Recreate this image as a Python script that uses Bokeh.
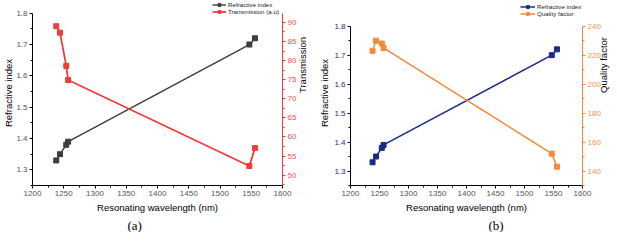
from math import pi
from bokeh.plotting import figure
from bokeh.models import Range1d, LinearAxis, FixedTicker, Legend, LegendItem, Title
from bokeh.layouts import row
from bokeh.embed import file_html
from bokeh.resources import INLINE

# ---- data ----
wavelength = [1238, 1244, 1254, 1257, 1547, 1556]
refractive_index = [1.33, 1.35, 1.38, 1.39, 1.70, 1.72]
transmission = [89.0, 87.3, 78.6, 74.9, 52.4, 57.1]
quality_factor = [223, 230, 228, 225, 152, 143]

x_ticks = [1200, 1250, 1300, 1350, 1400, 1450, 1500, 1550, 1600]
x_minor = [1225, 1275, 1325, 1375, 1425, 1475, 1525, 1575]
ri_ticks = [1.3, 1.4, 1.5, 1.6, 1.7, 1.8]
ri_minor = [1.25, 1.35, 1.45, 1.55, 1.65, 1.75]
tr_ticks = [50, 55, 60, 65, 70, 75, 80, 85, 90]
tr_minor = [47.5, 52.5, 57.5, 62.5, 67.5, 72.5, 77.5, 82.5, 87.5]
qf_ticks = [140, 160, 180, 200, 220, 240]
qf_minor = [130, 150, 170, 190, 210, 230]

ri_span = (1.25, 1.8)
tr_span = (47.3, 92.4)
qf_span = (130, 240)

x_label = "Resonating wavelength (nm)"
ri_label = "Refractive index"
tr_label = "Transmission"
tr_legend = "Transmission (a.u)"
qf_label = "Quality factor"

SANS = "Liberation Sans"
SERIF = "Liberation Serif"
GRAY = "#3d3d3d"
RED = "#f23b3b"
RED_LBL = "#f25050"
NAVY = "#1c2a86"
ORANGE = "#f5893c"
ORANGE_LBL = "#f39248"
TICK_LBL = "#555555"

# layout (pixels): both frames run from the page top (8) down to y=193;
# the axes themselves start lower, as in the reference.
FH = 185
BOTTOM = 42
DROP_A = 12.7
DROP_B = 25.7


def style_axis(ax, line_color, label_color, ticks, minor, title=None, standoff=2):
    ax.ticker = FixedTicker(ticks=ticks, minor_ticks=minor)
    ax.axis_line_color = line_color
    ax.major_tick_line_color = line_color
    ax.minor_tick_line_color = line_color
    ax.axis_line_width = 1
    ax.major_tick_in = 0
    ax.major_tick_out = 3
    ax.minor_tick_in = 0
    ax.minor_tick_out = 2
    ax.major_label_text_color = label_color
    ax.major_label_text_font = SANS
    ax.major_label_text_font_size = "8px"
    ax.major_label_standoff = 2
    if title:
        ax.axis_label = title
        ax.axis_label_text_font = SANS
        ax.axis_label_text_font_size = "9.5px"
        ax.axis_label_text_font_style = "normal"
        ax.axis_label_text_color = "black"
        ax.axis_label_standoff = standoff


def with_headroom(span, drop):
    lo, hi = span
    return (lo, hi + (hi - lo) * drop / (FH - drop))


def make_panel(bl, br, fw, left_range, right_range):
    p = figure(frame_width=fw, frame_height=FH, output_backend="svg", toolbar_location=None,
               title=None,
               x_range=Range1d(1200, 1600), y_range=Range1d(*left_range),
               min_border_left=bl, min_border_right=br,
               min_border_top=0, min_border_bottom=BOTTOM)
    p.outline_line_color = None
    p.xgrid.visible = False
    p.ygrid.visible = False
    p.background_fill_color = "white"
    p.border_fill_color = "white"
    p.extra_y_ranges = {"r": Range1d(*right_range)}
    return p


def add_tag(p, text, offset):
    p.add_layout(Title(text=text, align="left", offset=offset, standoff=0,
                       text_font=SERIF, text_font_size="13px",
                       text_font_style="normal", text_color="black"), "below")


def legend(items, vx, vy, gw):
    return Legend(items=items, location=(vx, vy), orientation="vertical",
                  padding=0, margin=0, spacing=0, glyph_width=gw, glyph_height=7,
                  label_height=7, label_standoff=2, label_text_font=SANS,
                  label_text_font_size="6.2px", label_text_color="#222222",
                  border_line_color=None, background_fill_alpha=0)


# ---------------- panel (a) ----------------
p1 = make_panel(26, 32, 250, with_headroom(ri_span, DROP_A), with_headroom(tr_span, DROP_A))

r1l = p1.line(wavelength, refractive_index, line_color=GRAY, line_width=1.4)
r1s = p1.scatter(wavelength, refractive_index, marker="square", size=5,
                 fill_color=GRAY, line_color=GRAY)
r2l = p1.line(wavelength, transmission, line_color=RED, line_width=1.8, y_range_name="r")
r2s = p1.scatter(wavelength, transmission, marker="square", size=5,
                 fill_color=RED, line_color=RED, y_range_name="r")

style_axis(p1.xaxis[0], "black", TICK_LBL, x_ticks, x_minor, x_label, 3)
style_axis(p1.yaxis[0], "black", TICK_LBL, ri_ticks, ri_minor, ri_label, -1)
p1.yaxis[0].bounds = ri_span
ax1r = LinearAxis(y_range_name="r", bounds=tr_span)
style_axis(ax1r, RED, RED_LBL, tr_ticks, tr_minor, tr_label, 3)
try:
    ax1r.axis_label_orientation = pi / 2
except Exception:
    pass
p1.add_layout(ax1r, "right")

p1.add_layout(legend([LegendItem(label=ri_label, renderers=[r1l, r1s]),
                      LegendItem(label=tr_legend, renderers=[r2l, r2s])],
                     180, 170.5, 14), "center")
add_tag(p1, "(a)", 95)

# ---------------- panel (b) ----------------
p2 = make_panel(32, 29, 232, with_headroom(ri_span, DROP_B), with_headroom(qf_span, DROP_B))

b1l = p2.line(wavelength, refractive_index, line_color=NAVY, line_width=1.5)
b1s = p2.scatter(wavelength, refractive_index, marker="square", size=5,
                 fill_color=NAVY, line_color=NAVY)
b2l = p2.line(wavelength, quality_factor, line_color=ORANGE, line_width=1.5, y_range_name="r")
b2s = p2.scatter(wavelength, quality_factor, marker="square", size=5,
                 fill_color=ORANGE, line_color=ORANGE, y_range_name="r")

style_axis(p2.xaxis[0], "black", TICK_LBL, x_ticks, x_minor, x_label, 3)
style_axis(p2.yaxis[0], "black", NAVY, ri_ticks, ri_minor, ri_label, 1)
p2.yaxis[0].bounds = ri_span
ax2r = LinearAxis(y_range_name="r", bounds=qf_span)
style_axis(ax2r, ORANGE, ORANGE_LBL, qf_ticks, qf_minor, qf_label, 0)
try:
    ax2r.axis_label_orientation = pi / 2
except Exception:
    pass
p2.add_layout(ax2r, "right")

p2.add_layout(legend([LegendItem(label=ri_label, renderers=[b1l, b1s]),
                      LegendItem(label=qf_label, renderers=[b2l, b2s])],
                     170, 168.5, 15), "center")
add_tag(p2, "(b)", 138)

layout = row(p1, p2, spacing=0)
open("out.html", "w").write(file_html(layout, INLINE))
